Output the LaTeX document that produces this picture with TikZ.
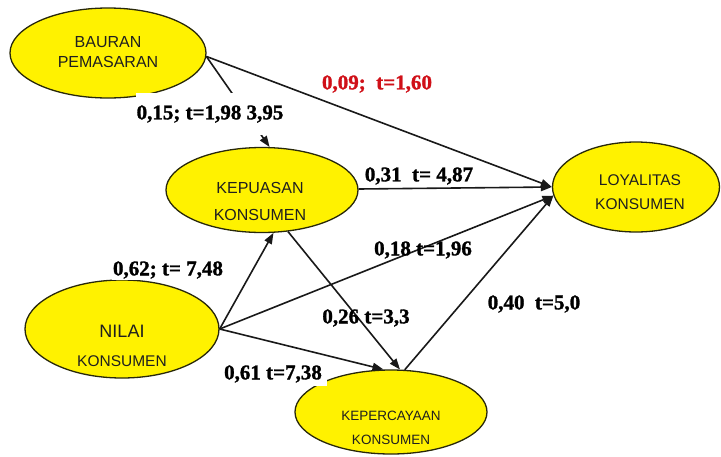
\documentclass[tikz,border=0pt]{standalone}
\usepackage{fontspec}
\setmainfont{Liberation Serif}
\newfontfamily\nodefont{Liberation Sans}
\newfontfamily\lblfont{Liberation Serif}[BoldFeatures={FakeBold=1.3}]
\usetikzlibrary{shapes.geometric,arrows.meta}
\definecolor{lblred}{RGB}{208,16,24}
\definecolor{ellline}{RGB}{40,40,10}
\begin{document}
\begin{tikzpicture}[x=1pt,y=-1pt,
  ell/.style={ellipse, draw=ellline, line width=1.3pt, fill=yellow, inner sep=0pt},
  ntxt/.style={font=\nodefont, align=center, text=black!88, inner sep=0pt},
  lbl/.style={font=\lblfont\bfseries\fontsize{21}{21}\selectfont, inner sep=1pt},
  wlbl/.style={lbl, fill=white},
  arr/.style={line width=1.6pt, draw=black!90, -{Triangle[length=11pt,width=8pt]}},
]
\useasboundingbox[fill=white] (0,0) rectangle (721,456);

% ellipses
\node[ell, minimum width=196pt, minimum height=90pt] (bauran) at (108,53) {};
\node[ell, minimum width=192pt, minimum height=85pt] (kepuasan) at (262,190) {};
\node[ell, minimum width=167pt, minimum height=90pt] (loy) at (636,187) {};
\node[ell, minimum width=194pt, minimum height=98pt] (nilai) at (122,329) {};
\node[ell, minimum width=192pt, minimum height=84pt] (kep) at (391,412) {};

% texts
\node[ntxt, font=\nodefont\fontsize{16}{20}\selectfont] (tb) at (108,52) {BAURAN\\PEMASARAN};
\node[ntxt, font=\nodefont\fontsize{16}{27}\selectfont] (tk) at (260,201.5) {KEPUASAN\\KONSUMEN};
\node[ntxt, font=\nodefont\fontsize{15.5}{24}\selectfont] (tl) at (640,192) {LOYALITAS\\KONSUMEN};
\node[ntxt, font=\nodefont\fontsize{18}{29}\selectfont] (tn) at (122,345.5) {NILAI\\\fontsize{15.5}{29}\selectfont KONSUMEN};
\node[ntxt, font=\nodefont\fontsize{13.5}{24}\selectfont] (tp) at (391,428) {KEPERCAYAAN\\KONSUMEN};

% connectors
\draw[arr] (bauran.-2) -- (kepuasan.80);
\draw[arr] (bauran.-2) -- (loy.west);
\draw[arr] (kepuasan) -- (loy.west);
\draw[arr] (nilai.east) -- (kepuasan.-75);
\draw[arr] (nilai.east) -- (loy.186);
\draw[arr] (nilai.east) -- (kep.100);
\draw[arr] (kepuasan.-58) -- (kep.78);
\draw[arr] (kep.72) -- (loy.186);

% labels
\node[wlbl, inner ysep=12pt] (l1) at (210,114) {0,15; t=1,98 3,95};
\node[lbl, text=lblred] (l2) at (377,84) {0,09;\ \ t=1,60};
\node[lbl] (l3) at (419,176) {0,31\ \ t= 4,87};
\node[wlbl] (l4) at (168,270) {0,62; t= 7,48};
\node[lbl] (l5) at (423,250) {0,18 t=1,96};
\node[wlbl, inner xsep=5pt, inner ysep=3pt] (l6) at (273,374) {0,61 t=7,38};
\node[lbl] (l7) at (366,318) {0,26 t=3,3};
\node[lbl] (l8) at (534,304) {0,40\ \ t=5,0};
\end{tikzpicture}
\end{document}
